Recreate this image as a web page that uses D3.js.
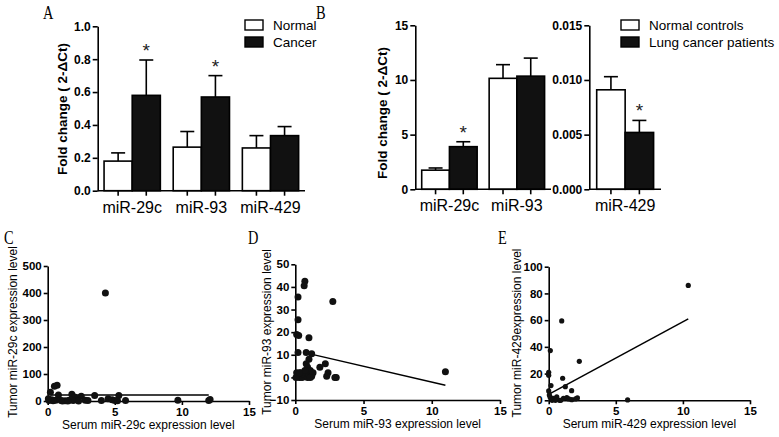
<!DOCTYPE html>
<html><head><meta charset="utf-8">
<script src="https://cdn.jsdelivr.net/npm/d3@7/dist/d3.min.js"></script>
<style>
body{margin:0;background:#fff;}
svg{display:block;font-family:"Liberation Sans",Arial,sans-serif;}
.tick text{font-weight:bold;}
</style>
</head><body>
<svg id="c" width="779" height="437"></svg>
<script>
// ---- Panel A data ----
const catsA = ["miR-29c","miR-93","miR-429"];
const seriesA = ["Normal","Cancer"];
const normalA = [0.18, 0.265, 0.26];
const normalErrA = [0.23, 0.36, 0.335];
const cancerA = [0.58, 0.57, 0.335];
const cancerErrA = [0.795, 0.70, 0.39];
const sigA = [true, true, false];
const ticksA = [0,0.2,0.4,0.6,0.8,1.0];

// ---- Panel B data ----
const catsB1 = ["miR-29c","miR-93"];
const normalB1 = [1.75, 10.15];
const normalErrB1 = [1.95, 11.4];
const cancerB1 = [3.9, 10.35];
const cancerErrB1 = [4.35, 12.0];
const sigB1 = [true, false];
const ticksB1 = [0,5,10,15];
const catsB2 = ["miR-429"];
const normalB2 = [0.0091];
const normalErrB2 = [0.0103];
const cancerB2 = [0.0052];
const cancerErrB2 = [0.0063];
const sigB2 = [true];
const ticksB2 = [0,0.005,0.010,0.015];
const seriesB = ["Normal controls","Lung cancer patients"];

// ---- Panel C data (serum, tumor) ----
const cX = [4.3,0.2,0.5,0.7,0.8,0.3,0.1,0.6,1.0,1.3,1.6,1.8,2.0,2.2,1.9,2.5,2.8,3.0,3.5,4.0,4.5,4.8,5.0,5.3,5.2,5.8,9.7,12.0,12.1,0.4,1.1,2.3,0.05,1.5];
const cY = [400,32,55,58,22,5,2,3,2,1,3,25,15,8,2,18,3,2,20,2,8,5,2,20,1,2,3,2,6,1,0,0,8,0];
const cLineX = [0.2, 12];
const cLineY = [22, 22];
const ticksCx = [0,5,10,15];
const ticksCy = [0,100,200,300,400,500];

// ---- Panel D data ----
const dX = [0.7,0.65,0.2,2.75,0.2,0.1,0.25,1.0,0.2,0.8,1.2,1.0,0.8,0.9,1.1,1.8,2.2,2.4,2.3,2.9,3.0,0.1,0.2,0.3,0.4,0.5,0.6,0.9,1.0,1.2,1.3,1.1,0.05,11.0,0.7,0.3];
const dY = [42.5,40.5,35.5,33.5,25.5,19,18.5,17.5,11,11,10.5,8,6,4.5,3,4.5,6,2,0.5,0,0,2,1,0,2,0,1.5,0,1,0.5,2,0,0,2.5,3,2];
const dLineX = [1.0, 11.0];
const dLineY = [10.5, -3.5];
const ticksDx = [0,5,10,15];
const ticksDy = [-10,0,10,20,30,40,50];

// ---- Panel E data ----
const eX = [10.4,0.97,0.12,2.28,0.0,0.0,1.04,0.17,1.24,1.71,0.0,5.88,0.1,0.35,0.6,1.1,1.35,1.72,2.14,0.8,0.25,0.05,0.5,0.9,2.0,1.5];
const eY = [86,59.4,37.2,29.2,21,18.7,16.5,11,10.2,7.2,7,0.3,2.5,1.5,2.5,1.5,2,0.5,1.8,0,0,4,0,0,1,1];
const eLineX = [0.1, 10.4];
const eLineY = [5, 61];
const ticksEx = [0,5,10,15];
const ticksEy = [0,20,40,60,80,100];

const svg = d3.select("#c");

function styleAxis(g){
  g.selectAll(".domain").attr("stroke","#000").attr("stroke-width",1.6);
  g.selectAll(".tick line").attr("stroke","#000").attr("stroke-width",1.6);
  g.selectAll(".tick text").attr("fill","#000");
}

function panelLetter(t,x,y){
  svg.append("text").attr("x",x).attr("y",y).text(t)
    .attr("font-family","'Liberation Serif','DejaVu Serif',serif")
    .attr("font-size",18).attr("transform",`translate(${x},${y}) scale(0.8,1) translate(${-x},${-y})`);
}

function barPanel(opts){
  const {cats, normal, normalErr, cancer, cancerErr, sig, yDomain, yRange, xRange, pIn, pOut, ticks, fmt} = opts;
  const y = d3.scaleLinear().domain(yDomain).range(yRange);
  const x0 = d3.scaleBand().domain(cats).range(xRange).paddingInner(pIn).paddingOuter(pOut);
  const x1 = d3.scaleBand().domain([0,1]).range([0,x0.bandwidth()]);
  const g = svg.append("g");
  const ga = g.append("g").attr("transform",`translate(${xRange[0]},0)`)
    .call(d3.axisLeft(y).tickValues(ticks).tickFormat(fmt).tickSize(5).tickSizeOuter(0));
  ga.selectAll(".tick text").attr("font-size",12).attr("dx",1);
  styleAxis(ga);
  const vals = [normal, cancer], errs = [normalErr, cancerErr];
  const bw = x1.bandwidth();
  [0,1].forEach(s=>{
    cats.forEach((c,i)=>{
      const bx = x0(c)+x1(s);
      const cx = bx+bw/2;
      g.append("line").attr("x1",cx).attr("x2",cx).attr("y1",y(vals[s][i])).attr("y2",y(errs[s][i]))
        .attr("stroke","#000").attr("stroke-width",1.6);
      g.append("line").attr("x1",cx-7).attr("x2",cx+7).attr("y1",y(errs[s][i])).attr("y2",y(errs[s][i]))
        .attr("stroke","#000").attr("stroke-width",1.6);
      g.append("rect").attr("x",bx).attr("width",bw).attr("y",y(vals[s][i]))
        .attr("height",y(yDomain[0])-y(vals[s][i]))
        .attr("fill", s===0?"#fff":"#111").attr("stroke","#000").attr("stroke-width",1.6);
      if(s===1 && sig[i]){
        g.append("text").attr("x",cx).attr("y",y(errs[s][i])-3).attr("text-anchor","middle")
          .attr("font-size",19).attr("fill","#222").text("*");
      }
    });
  });
  const base = y(yDomain[0]);
  g.append("line").attr("x1",xRange[0]).attr("x2",xRange[1]).attr("y1",base).attr("y2",base)
    .attr("stroke","#000").attr("stroke-width",1.6);
  cats.forEach(c=>{
    [0,1].forEach(s=>{
      const cx = x0(c)+x1(s)+bw/2;
      g.append("line").attr("x1",cx).attr("x2",cx).attr("y1",base).attr("y2",base+5)
        .attr("stroke","#000").attr("stroke-width",1.6);
    });
    g.append("text").attr("x",x0(c)+x0.bandwidth()/2).attr("y",base+22).attr("text-anchor","middle")
      .attr("font-size",16).text(c);
  });
}

function yTitle(t,x,cy,size,bold){
  svg.append("text").attr("transform",`translate(${x},${cy}) rotate(-90)`).attr("text-anchor","middle")
    .attr("font-size",size).attr("font-weight",bold?"bold":"normal").text(t);
}

function legend(items,x,y){
  items.forEach((t,i)=>{
    svg.append("rect").attr("x",x).attr("y",y+i*17).attr("width",18).attr("height",10)
      .attr("fill",i===0?"#fff":"#111").attr("stroke","#000").attr("stroke-width",1.4);
    svg.append("text").attr("x",x+28).attr("y",y+i*17+10).attr("font-size",13.5).text(t);
  });
}

// ---- Panel A ----
panelLetter("A",43,19);
barPanel({cats:catsA, normal:normalA, normalErr:normalErrA, cancer:cancerA, cancerErr:cancerErrA, sig:sigA,
  yDomain:[0,1], yRange:[190.7,26.3], xRange:[97.7,305], pIn:0.186, pOut:0.092, ticks:ticksA, fmt:d3.format(".1f")});
yTitle("Fold change ( 2-ΔCt)",67,109,13.5,true);
legend(seriesA,245,20);

// ---- Panel B ----
panelLetter("B",316,19);
barPanel({cats:catsB1, normal:normalB1, normalErr:normalErrB1, cancer:cancerB1, cancerErr:cancerErrB1, sig:sigB1,
  yDomain:[0,15], yRange:[189.3,25.3], xRange:[415.3,551], pIn:0.178, pOut:0.095, ticks:ticksB1, fmt:d3.format("d")});
barPanel({cats:catsB2, normal:normalB2, normalErr:normalErrB2, cancer:cancerB2, cancerErr:cancerErrB2, sig:sigB2,
  yDomain:[0,0.015], yRange:[189.3,25.3], xRange:[589.3,661], pIn:0, pOut:0.13, ticks:ticksB2, fmt:d3.format(".3f")});
yTitle("Fold change ( 2-ΔCt)",387,113,13.5,true);
legend(seriesB,621,20);

function scatter(o){
  const x = d3.scaleLinear().domain([0,15]).range(o.xRange);
  const y = d3.scaleLinear().domain(o.yDomain).range(o.yRange);
  const g = svg.append("g");
  const gx = g.append("g").attr("transform",`translate(0,${o.yRange[0]})`)
    .call(d3.axisBottom(x).tickValues(o.xTicks).tickSize(4).tickSizeOuter(0));
  gx.selectAll(".tick text").attr("font-size",11.5);
  styleAxis(gx);
  const gy = g.append("g").attr("transform",`translate(${o.xRange[0]},0)`)
    .call(d3.axisLeft(y).tickValues(o.yTicks).tickSize(4).tickSizeOuter(0));
  gy.selectAll(".tick text").attr("font-size",11.5).attr("dx",1);
  styleAxis(gy);
  g.append("line").attr("x1",x(o.lx[0])).attr("x2",x(o.lx[1])).attr("y1",y(o.ly[0])).attr("y2",y(o.ly[1]))
    .attr("stroke","#000").attr("stroke-width",1.5);
  g.selectAll("circle.p").data(o.xs).enter().append("circle")
    .attr("cx",d=>x(d)).attr("cy",(d,i)=>y(o.ys[i])).attr("r",o.r).attr("fill","#111");
  g.append("text").attr("x",(o.xRange[0]+o.xRange[1])/2).attr("y",o.yRange[0]+28).attr("text-anchor","middle")
    .attr("font-size",12).text(o.xTitle);
}

// ---- Panel C ----
panelLetter("C",4,244);
scatter({xRange:[47.7,249], yDomain:[0,500], yRange:[401,266], xTicks:ticksCx, yTicks:ticksCy,
  xs:cX, ys:cY, lx:cLineX, ly:cLineY, r:3.5, xTitle:"Serum  miR-29c expression level"});
yTitle("Tumor miR-29c expression level",17,332,12,false);

// ---- Panel D ----
panelLetter("D",248,244);
scatter({xRange:[295.3,500], yDomain:[-10,50], yRange:[400,264.3], xTicks:ticksDx, yTicks:ticksDy,
  xs:dX, ys:dY, lx:dLineX, ly:dLineY, r:3.5, xTitle:"Serum miR-93 expression level"});
yTitle("Tumor miR-93 expression level",271,332,12,false);

// ---- Panel E ----
panelLetter("E",498,244);
scatter({xRange:[548.7,750], yDomain:[0,100], yRange:[400.3,266.7], xTicks:ticksEx, yTicks:ticksEy,
  xs:eX, ys:eY, lx:eLineX, ly:eLineY, r:2.6, xTitle:"Serum miR-429 expression level"});
yTitle("Tumor miR-429expression level",521,333,12,false);
</script>
</body></html>
